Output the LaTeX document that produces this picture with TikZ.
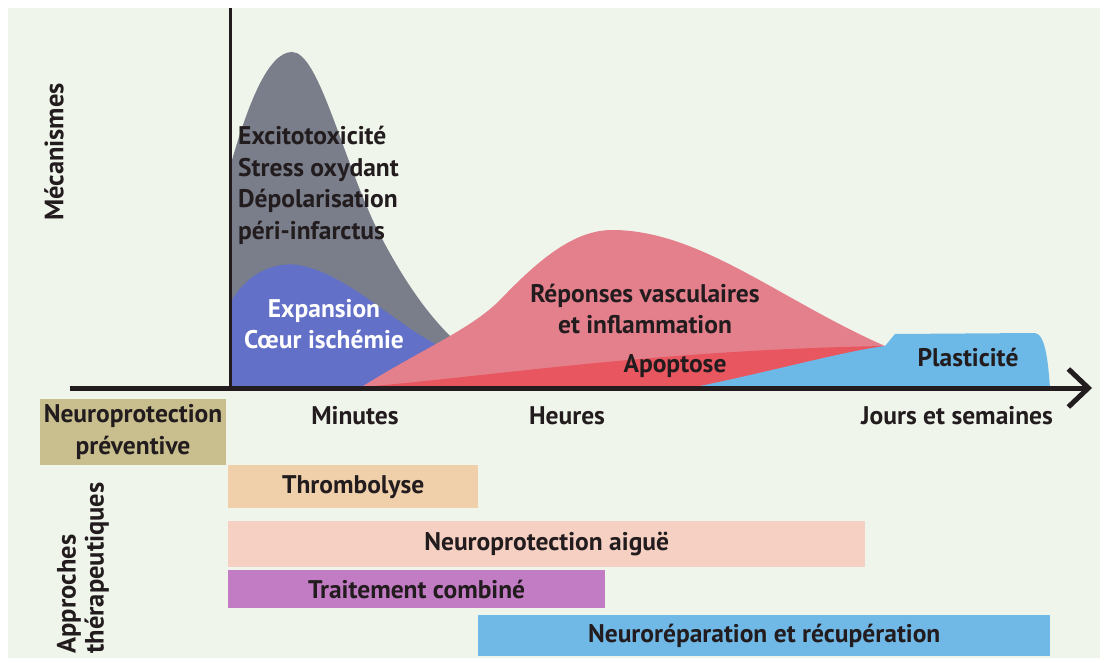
\documentclass[tikz,border=0pt]{standalone}
\usepackage{fontspec}
\setsansfont{PT Sans}
\usetikzlibrary{arrows.meta}
\definecolor{bgc}{RGB}{240,245,235}
\definecolor{txt}{RGB}{34,28,30}
\definecolor{grayc}{RGB}{122,126,138}
\definecolor{expc}{RGB}{98,112,200}
\definecolor{redc}{RGB}{228,128,140}
\definecolor{apoc}{RGB}{232,86,96}
\definecolor{plac}{RGB}{108,184,230}
\definecolor{olivec}{RGB}{200,190,142}
\definecolor{thrc}{RGB}{240,208,170}
\definecolor{npac}{RGB}{246,208,194}
\definecolor{tcc}{RGB}{194,124,196}
\definecolor{nrc}{RGB}{112,184,230}
\tikzset{
  lab/.style={font=\sffamily\bfseries\fontsize{25.5}{31.5}\selectfont, text=txt, inner sep=0pt},
  sidelab/.style={font=\sffamily\bfseries\fontsize{26.5}{28}\selectfont, text=txt, inner sep=0pt, rotate=90},
  bar/.style={lab, anchor=north west, inner sep=0pt, minimum height=43pt},
  axis/.style={draw=txt, line width=5pt},
}
\begin{document}
\begin{tikzpicture}[x=1pt,y=-1pt]
\useasboundingbox (0,0) rectangle (1110,663);
\fill[white] (0,0) rectangle (1110,663);
\fill[bgc] (8,8) rectangle (1100,658);

% mechanism curves
\fill[grayc] (232,388) -- (232,160) .. controls (248,105) and (268,52) .. (292,52)
  .. controls (318,52) and (340,150) .. (375,225)
  .. controls (405,285) and (440,335) .. (480,360) -- (480,388) -- cycle;
\fill[expc] (232,388) -- (232,300) .. controls (250,270) and (278,262) .. (298,265)
  .. controls (340,272) and (380,310) .. (420,335)
  .. controls (440,348) and (460,355) .. (480,360) -- (480,388) -- cycle;
\fill[redc] (360,388) .. controls (420,350) and (470,330) .. (500,300)
  .. controls (540,258) and (575,230) .. (612,230)
  .. controls (700,230) and (780,300) .. (885,346) -- (885,352) -- (700,388) -- cycle;
\fill[apoc] (350,388) .. controls (480,378) and (650,350) .. (885,346)
  .. controls (800,365) and (740,380) .. (700,388) -- cycle;
\fill[plac] (690,388) .. controls (770,372) and (840,352) .. (885,346)
  -- (895,334) -- (1035,333) .. controls (1045,334) and (1048,360) .. (1050,388) -- cycle;

% axes
\coordinate (vt) at (230,8);
\coordinate (vb) at (230,390);
\coordinate (xo) at (70,388);
\coordinate (xe) at (1092,388);
\draw[line width=3pt, txt] (vt) -- (vb);
\draw[axis, -{Straight Barb[length=20pt,width=38pt,line width=5pt]}] (xo) -- (xe);

% side labels
\node[sidelab] (meca) at (54,152) {Mécanismes};
\node[sidelab, align=left] (appr) at (83,568) {Approches\\thérapeutiques};

% mechanism labels
\node[lab, align=left, anchor=base west] (exc) at (238,239)
  {Excitotoxicité\\Stress oxydant\\Dépolarisation\\péri-infarctus};
\node[lab, align=center, text=white] (exp) at (324,324) {Expansion\\Cœur ischémie};
\node[lab, align=center] (rep) at (645,309) {Réponses vasculaires\\et inflammation};
\node[lab] (apo) at (675,366) {Apoptose};
\node[lab] (pla) at (968,357) {Plasticité};

% time labels
\node[lab] (min) at (355,416) {Minutes};
\node[lab] (heu) at (567,416) {Heures};
\node[lab] (jou) at (957,416) {Jours et semaines};

% therapeutic approaches
\node[lab, fill=olivec, align=center, minimum width=186pt, minimum height=66pt] (npp) at (133,432)
  {Neuroprotection\\préventive};
\node[bar, fill=thrc, minimum width=250pt] (thr) at (228,465) {Thrombolyse};
\node[bar, fill=npac, minimum width=637pt, minimum height=46pt] (npa) at (228,521) {Neuroprotection aiguë};
\node[bar, fill=tcc, minimum width=377pt, minimum height=38pt] (tc) at (228,570) {Traitement combiné};
\node[bar, fill=nrc, minimum width=572pt, minimum height=41pt] (nr) at (478,615) {Neuroréparation et récupération};
\end{tikzpicture}
\end{document}
